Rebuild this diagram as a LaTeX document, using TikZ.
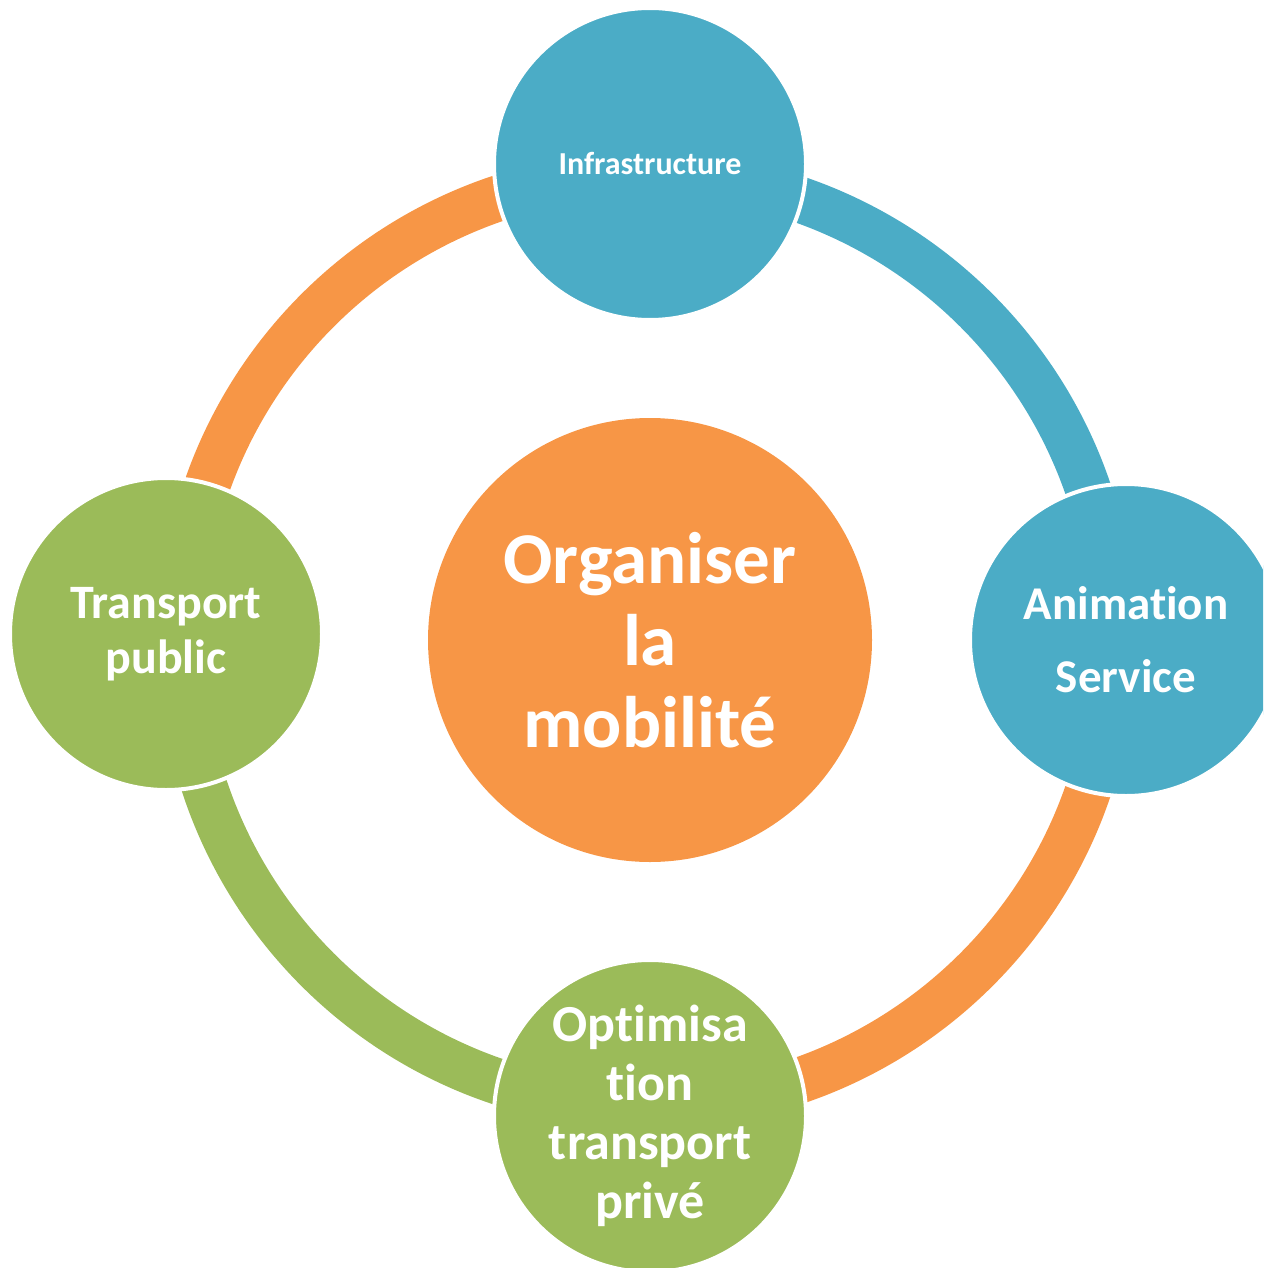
\documentclass[tikz,border=0pt]{standalone}
\usepackage{fontspec}
\setmainfont{Carlito}[Ligatures=NoCommon]
\definecolor{cblue}{HTML}{4BACC6}
\definecolor{corange}{HTML}{F79646}
\definecolor{cgreen}{HTML}{9BBB59}
\begin{document}
\begin{tikzpicture}[x=1pt,y=-1pt,
  bubble/.style={circle, draw=white, line width=4pt, minimum size=312pt, inner sep=0pt, text=white, align=center},
  ringarc/.style={line width=46pt},
]
\useasboundingbox (0,0) rectangle (1263,1268);
\clip (0,0) rectangle (1263,1268);
\coordinate (ringc) at (647,640);
% ring segments
\draw[ringarc, cblue] ([shift={(270:466)}]ringc) arc[start angle=270, end angle=360, radius=466];
\draw[ringarc, corange] ([shift={(0:466)}]ringc) arc[start angle=0, end angle=90, radius=466];
\draw[ringarc, cgreen] ([shift={(90:466)}]ringc) arc[start angle=90, end angle=180, radius=466];
\draw[ringarc, corange] ([shift={(180:466)}]ringc) arc[start angle=180, end angle=270, radius=466];
% central circle
\node[circle, fill=corange, minimum size=444pt, inner sep=0pt, text=white, align=center,
      font=\bfseries\fontsize{73}{82}\selectfont] (hub) at (650,640) {Organiser\\la\\mobilité};
% satellites
\node[bubble, fill=cblue, font=\bfseries\fontsize{32}{38}\selectfont] (infra) at (650,164) {Infrastructure};
\node[bubble, fill=cblue, font=\bfseries\fontsize{47}{73}\selectfont] (anim) at (1126,640) {Animation\\Service};
\node[bubble, fill=cgreen, font=\bfseries\fontsize{52}{59}\selectfont] (optim) at (650,1116) {Optimisa\\tion\\transport\\privé};
\node[bubble, fill=cgreen, font=\bfseries\fontsize{48}{55}\selectfont] (tpub) at (166,634) {Transport\\public};
\end{tikzpicture}
\end{document}
